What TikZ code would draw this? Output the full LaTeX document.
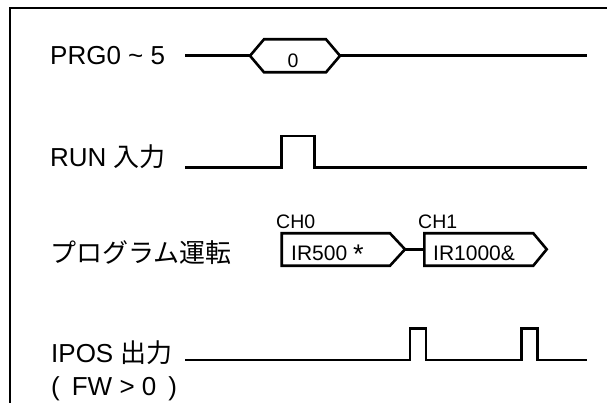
\documentclass[tikz,border=0pt]{standalone}
\usepackage{fontspec}
\setmainfont{Liberation Sans}
\newfontfamily\jpfont{Noto Sans CJK JP}
\usetikzlibrary{calc}

\begin{document}
\begin{tikzpicture}[x=1pt, y=-1pt,
  sig/.style={line width=2.6pt, line join=miter},
  lbl/.style={anchor=base west, inner sep=0pt, font=\fontsize{26}{30}\selectfont},
  chlbl/.style={anchor=base west, inner sep=0pt, font=\fontsize{19.5}{22}\selectfont},
  boxtxt/.style={anchor=base west, inner sep=0pt, font=\fontsize{21}{24}\selectfont}]
\useasboundingbox (0,0) rectangle (607,403);
\def\xstart{185}
\def\xend{586.7}
\def\prgy{55.8}
\def\runy{167.3}
\def\chy{249.3}
\def\iposy{360}

% frame
\coordinate (FrameR) at (607,8);
\coordinate (FrameC) at (10,8);
\coordinate (FrameB) at (10,403);
\draw[line width=2pt] (FrameR) -- (FrameC) -- (FrameB);

% PRG0~5
\node[lbl] (prg) at (50,65) {PRG0 \textasciitilde{} 5};
\coordinate (PrgL) at (\xstart,\prgy);
\coordinate (HexL) at (250,\prgy);
\coordinate (HexR) at (340,\prgy);
\coordinate (PrgR) at (\xend,\prgy);
\draw[sig] (PrgL) -- (HexL);
\draw[sig] (HexL) -- (264,39.3) -- (326,39.3) -- (HexR) -- (326,72.3) -- (264,72.3) -- cycle;
\draw[sig] (HexR) -- (PrgR);
\node[anchor=base, inner sep=0pt, font=\fontsize{19.5}{22}\selectfont] (prgval) at (293,67.3) {0};

% RUN input
\node[lbl] (run) at (50,167) {RUN {\jpfont 入力}};
\coordinate (RunL) at (\xstart,\runy);
\coordinate (RunUp) at (281.7,\runy);
\coordinate (RunDn) at (314.3,\runy);
\coordinate (RunR) at (\xend,\runy);
\draw[sig] (RunL) -- (RunUp) -- ++(0,-31.3) -| (RunDn) -- (RunR);

% program run
\node[lbl, anchor=west] (prog) at (50,253) {\jpfont プログラム運転};
\coordinate (Ch0Tip) at (405,\chy);
\coordinate (Ch1In) at (424.3,\chy);
\draw[sig] (281.7,233.3) -- (390,233.3) -- (Ch0Tip) -- (390,265.7) -- (281.7,265.7) -- cycle;
\draw[sig] (Ch1In) |- (533.3,233.3) -- (546.7,\chy) -- (533.3,265.7) -| cycle;
\draw[sig] (Ch0Tip) -- (Ch1In);
\node[chlbl] (ch0) at (276,228.3) {CH0};
\node[chlbl] (ch1) at (418,228.3) {CH1};
\node[boxtxt] (ch0prg) at (291,260.5) {IR500 \raisebox{-2.5pt}{\fontsize{27}{24}\selectfont *}};
\node[boxtxt] (ch1prg) at (433,260.5) {IR1000\&};

% IPOS output
\node[lbl] (ipos) at (51,362) {IPOS {\jpfont 出力}};
\node[lbl] (fw) at (51,395) {(\hspace{12pt}FW > 0\hspace{12pt})};
\coordinate (IposL) at (\xstart,\iposy);
\coordinate (IposR) at (\xend,\iposy);
\draw[sig] (IposL) -- (410,\iposy) -- (410,328.3) -- (426,328.3) -- (426,\iposy)
  -- (521.7,\iposy) -- (521.7,328.3) -- (537.7,328.3) -- (537.7,\iposy) -- (IposR);
\end{tikzpicture}
\end{document}
